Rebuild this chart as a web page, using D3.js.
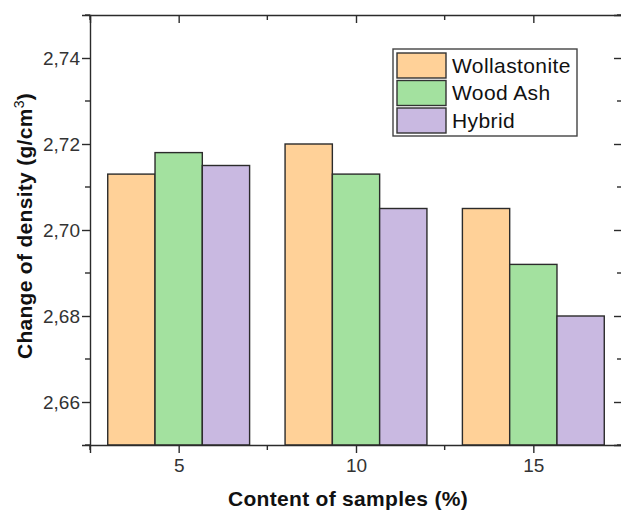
<!DOCTYPE html>
<html>
<head>
<meta charset="utf-8">
<script src="https://cdn.jsdelivr.net/npm/d3@7"></script>
<style>
  body { margin: 0; background: #fff; }
  svg { display: block; }
</style>
</head>
<body>
<div id="chart"></div>
<script>
// data
const contents = [5, 10, 15];
const seriesNames = ["Wollastonite", "Wood Ash", "Hybrid"];
const wollastonite = [2.713, 2.720, 2.705];
const woodAsh = [2.718, 2.713, 2.692];
const hybrid = [2.715, 2.705, 2.680];
const yTicks = [2.66, 2.68, 2.70, 2.72, 2.74];
const xTicks = [5, 10, 15];

const colors = ["#FFD198", "#A3E19F", "#C9B9E1"];
const series = [wollastonite, woodAsh, hybrid];

const width = 621, height = 510;
const margin = { left: 90, top: 15, right: -1, bottom: 65 };

const svg = d3.select("#chart").append("svg")
    .attr("width", width)
    .attr("height", height);

const x = d3.scaleLinear()
    .domain([2.5, 17.5])
    .range([margin.left, width - margin.right]);

const y = d3.scaleLinear()
    .domain([2.65, 2.75])
    .range([height - margin.bottom, margin.top]);

const barW = 4 / 3; // in x units

// bars
const g = svg.append("g");
series.forEach((vals, si) => {
    g.selectAll(".bar" + si)
        .data(vals)
        .enter()
        .append("rect")
        .attr("x", (d, i) => x(contents[i] - 2 + si * barW))
        .attr("y", d => y(d))
        .attr("width", x(barW) - x(0))
        .attr("height", d => y(2.65) - y(d))
        .attr("fill", colors[si])
        .attr("stroke", "#2b2b2b")
        .attr("stroke-width", 1.4);
});

const fmt = d => d3.format(".2f")(d).replace(".", ",");
const minorX = [2.5, 7.5, 12.5, 17.5];
const minorY = [2.65, 2.67, 2.69, 2.71, 2.73, 2.75];

// bottom axis
const xAxis = svg.append("g")
    .attr("transform", `translate(0,${y(2.65)})`)
    .call(d3.axisBottom(x).tickValues(xTicks).tickSize(8).tickPadding(6).tickFormat(d3.format("d")));
xAxis.append("g").selectAll("line").data(minorX).enter().append("line")
    .attr("x1", d => x(d)).attr("x2", d => x(d)).attr("y1", 0).attr("y2", 5);

// left axis
const yAxis = svg.append("g")
    .attr("transform", `translate(${x(2.5)},0)`)
    .call(d3.axisLeft(y).tickValues(yTicks).tickSize(8).tickPadding(2).tickFormat(fmt));
yAxis.append("g").selectAll("line").data(minorY).enter().append("line")
    .attr("y1", d => y(d)).attr("y2", d => y(d)).attr("x1", 0).attr("x2", -5);

// top axis (inward ticks)
const topAxis = svg.append("g")
    .attr("transform", `translate(0,${y(2.75)})`)
    .call(d3.axisTop(x).tickValues(xTicks).tickSize(-8).tickFormat(""));
topAxis.append("g").selectAll("line").data(minorX).enter().append("line")
    .attr("x1", d => x(d)).attr("x2", d => x(d)).attr("y1", 0).attr("y2", 5);

// right axis (inward ticks)
const rightAxis = svg.append("g")
    .attr("transform", `translate(${x(17.5)},0)`)
    .call(d3.axisRight(y).tickValues(yTicks).tickSize(-8).tickFormat(""));
rightAxis.append("g").selectAll("line").data(minorY).enter().append("line")
    .attr("y1", d => y(d)).attr("y2", d => y(d)).attr("x1", 0).attr("x2", -5);

svg.selectAll(".domain, .tick line, g > g > line")
    .attr("stroke", "#2b2b2b")
    .attr("stroke-width", 1.4);
svg.selectAll(".tick text")
    .attr("font-family", "Liberation Sans, Arial, sans-serif")
    .attr("font-size", 19)
    .attr("fill", "#333");

// axis titles
svg.append("text")
    .attr("x", 348)
    .attr("y", 506)
    .attr("text-anchor", "middle")
    .attr("font-family", "Liberation Sans, Arial, sans-serif")
    .attr("font-weight", "bold")
    .attr("font-size", 21)
    .attr("letter-spacing", 0.3)
    .attr("fill", "#111")
    .text("Content of samples (%)");

const yl = svg.append("text")
    .attr("transform", `translate(32,${y(2.70) - 4}) rotate(-90)`)
    .attr("text-anchor", "middle")
    .attr("font-family", "Liberation Sans, Arial, sans-serif")
    .attr("font-weight", "bold")
    .attr("font-size", 21)
    .attr("letter-spacing", 0.3)
    .attr("fill", "#111");
yl.append("tspan").text("Change of density (g/cm");
yl.append("tspan").attr("font-size", 14).attr("font-weight", "normal").attr("dy", -8).text("3");
yl.append("tspan").attr("dy", 8).text(")");

// legend
const legend = svg.append("g").attr("transform", "translate(393,49)");
legend.append("rect")
    .attr("width", 184).attr("height", 87)
    .attr("fill", "#fff").attr("stroke", "#444").attr("stroke-width", 1.4);
seriesNames.forEach((name, i) => {
    legend.append("rect")
        .attr("x", 4).attr("y", 4 + i * 27.5)
        .attr("width", 49).attr("height", 25)
        .attr("fill", colors[i]).attr("stroke", "#333").attr("stroke-width", 1.4);
    legend.append("text")
        .attr("x", 59).attr("y", 23.5 + i * 27.5)
        .attr("font-family", "Liberation Sans, Arial, sans-serif")
        .attr("font-size", 21)
        .attr("letter-spacing", 0.4)
        .attr("fill", "#111")
        .text(name);
});
</script>
</body>
</html>
